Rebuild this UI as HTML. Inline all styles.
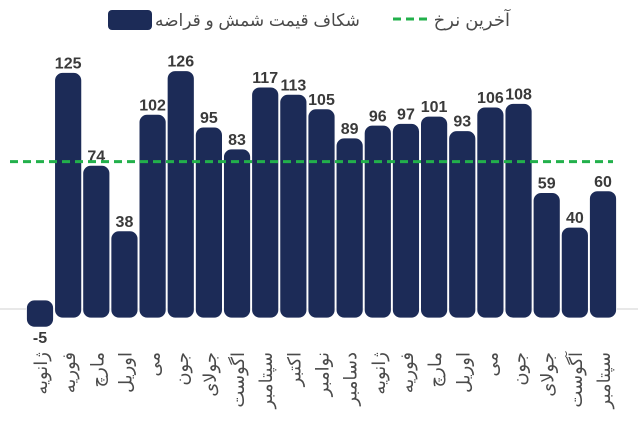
<!DOCTYPE html>
<html><head><meta charset="utf-8"><style>
html,body{margin:0;padding:0;background:#fff;width:638px;height:423px;overflow:hidden}
svg{display:block}
text{font-family:"Liberation Sans","DejaVu Sans",sans-serif}
</style></head><body>
<svg id="chart" width="638" height="423" viewBox="0 0 638 423" xmlns="http://www.w3.org/2000/svg">
  <g>
    <rect x="108" y="10" width="44" height="20" rx="4" fill="#1c2b57"/>
    <text x="155" y="26" text-anchor="start" font-size="17" fill="#4a4a4a">شکاف قیمت شمش و قراضه</text>
    <line x1="393" y1="19" x2="430" y2="19" stroke="#22b04b" stroke-width="3" stroke-dasharray="8,5"/>
    <text x="510" y="26" text-anchor="end" font-size="18" fill="#4a4a4a">آخرین نرخ</text>
  </g>
  <line x1="0" y1="309" x2="638" y2="309" stroke="#d0d0d0" stroke-width="1"/>
  <g id="bars"></g>
  <g id="labels"></g>
  <line id="ref" stroke="#22b04b" stroke-width="3" stroke-dasharray="8,5"/>
</svg>
<script>
const categories = ["ژانویه","فوریه","مارچ","اوریل","می","جون","جولای","اگوست","سپتامبر","اکتبر","نوامبر","دسامبر","ژانویه","فوریه","مارچ","اوریل","می","جون","جولای","آگوست","سپتامبر"];
const gapValues = [-5,125,74,38,102,126,95,83,117,113,105,89,96,97,101,93,106,108,59,40,60];
const latestRate = [81];

const NS = "http://www.w3.org/2000/svg";
const zeroY = 309, k = 1.82, pad = 9;
const x0 = 40, step = 28.15, bw = 27;
const yScale = v => zeroY - v * k;
const xScale = i => x0 + i * step;
const bars = document.getElementById('bars');
const labels = document.getElementById('labels');

gapValues.forEach((v, i) => {
  const cx = xScale(i);
  const top = Math.min(yScale(v), zeroY) - pad;
  const bot = Math.max(yScale(v), zeroY) + pad;
  const r = document.createElementNS(NS, 'rect');
  
  
  r.setAttribute('x', cx - bw / 2);
  r.setAttribute('y', top);
  r.setAttribute('width', bw);
  r.setAttribute('height', bot - top);
  r.setAttribute('rx', 8);
  r.setAttribute('fill', '#1c2b57');
  r.setAttribute('stroke', '#fff');
  r.setAttribute('stroke-width', '0.8');
  bars.appendChild(r);

  const t = document.createElementNS(NS, 'text');
  
  
  t.setAttribute('x', cx);
  t.setAttribute('y', v >= 0 ? top - 4 : bot + 16);
  t.setAttribute('text-anchor', 'middle');
  t.setAttribute('font-size', '16');
  t.setAttribute('font-weight', 'bold');
  t.setAttribute('fill', '#3a3a3a');
  t.textContent = v;
  labels.appendChild(t);

  const m = document.createElementNS(NS, 'text');
  
  
  m.setAttribute('transform', 'translate(' + (cx + 7) + ',352) rotate(-90)');
  m.setAttribute('text-anchor', 'end');
  m.setAttribute('font-size', '18');
  m.setAttribute('fill', '#4a4a4a');
  m.textContent = categories[i];
  labels.appendChild(m);
});

const ref = document.getElementById('ref');
ref.setAttribute('x1', 10);
ref.setAttribute('x2', 613);
ref.setAttribute('y1', yScale(latestRate[0]));
ref.setAttribute('y2', yScale(latestRate[0]));
</script>
</body></html>
